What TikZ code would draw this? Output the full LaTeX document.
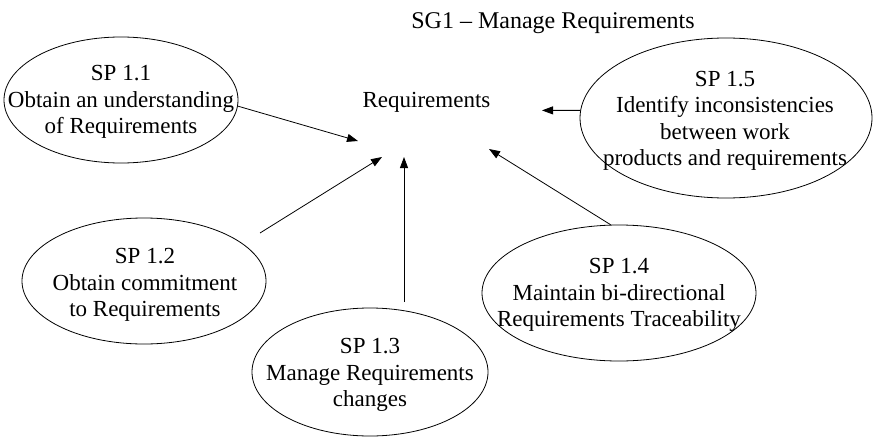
\documentclass[tikz,border=0pt]{standalone}
\usepackage{fontspec}
\setmainfont{Liberation Serif}
\usetikzlibrary{shapes.geometric,arrows.meta}
\begin{document}
\begin{tikzpicture}[x=1pt,y=-1pt,
  goal/.style={draw,ellipse,inner sep=0pt,line width=0.8pt},
  goaltext/.style={align=center,inner sep=0pt,font=\fontsize{23}{26.5}\selectfont},
  link/.style={line width=0.8pt,-{Triangle[length=11pt,width=8pt]}}]
\useasboundingbox (0,0) rectangle (874,436);
% title and centre label
\node[anchor=base,inner sep=0pt,font=\fontsize{24}{28}\selectfont] (title) at (553,29) {SG1 – Manage Requirements};
\node[anchor=base,inner sep=0pt,font=\fontsize{23}{26}\selectfont] (req) at (426.5,107) {Requirements};
% ellipses
\node[goal,minimum width=234pt,minimum height=126pt] (e11) at (121,100) {};
\node[goal,minimum width=244pt,minimum height=126pt] (e12) at (144,281) {};
\node[goal,minimum width=236pt,minimum height=128pt] (e13) at (370,372) {};
\node[goal,minimum width=274pt,minimum height=136pt] (e14) at (619,293) {};
\node[goal,minimum width=292pt,minimum height=160pt] (e15) at (726,118) {};
% texts
\node[goaltext] (x11) at (121,102) {SP 1.1\\Obtain an understanding\\of Requirements};
\node[goaltext] (x12) at (145,285) {SP 1.2\\Obtain commitment\\to Requirements};
\node[goaltext] (x13) at (370,375) {SP 1.3\\Manage Requirements\\changes};
\node[goaltext] (x14) at (619,295) {SP 1.4\\Maintain bi-directional\\Requirements Traceability};
\node[goaltext] (x15) at (725,121) {SP 1.5\\Identify inconsistencies\\between work\\products and requirements};
% connector ends
\coordinate (t1) at (358,141);
\coordinate (s2) at (260,233);
\coordinate (t2) at (382,157);
\coordinate (s3) at (404,302);
\coordinate (t3) at (404,157);
\coordinate (t4) at (489,149);
\coordinate (t5) at (542,110.4);
% connectors
\draw[link] (e11.-3) -- (t1);
\draw[link] (s2) -- (t2);
\draw[link] (s3) -- (t3);
\draw[link] (e14.97) -- (t4);
\draw[link] (e15.177) -- (t5);
\end{tikzpicture}
\end{document}
